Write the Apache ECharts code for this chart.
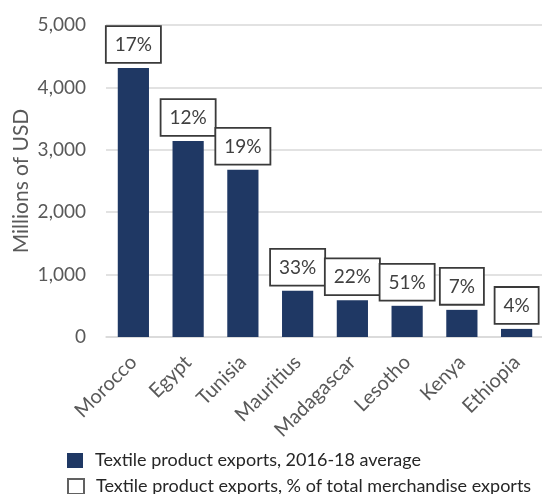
<!DOCTYPE html>
<html>
<head>
<meta charset="utf-8">
<script src="https://cdn.jsdelivr.net/npm/echarts@6/dist/echarts.min.js"></script>
<style>html,body{margin:0;padding:0;background:#fff;overflow:hidden}#c{width:542px;height:494px}</style>
</head>
<body>
<div id="c"></div>
<script>
const countries = ['Morocco','Egypt','Tunisia','Mauritius','Madagascar','Lesotho','Kenya','Ethiopia'];
const exportsMusd = [4310, 3140, 2680, 740, 590, 500, 435, 130];
const pctOfMerch = [17, 12, 19, 33, 22, 51, 7, 4];
const yTicks = [0, 1000, 2000, 3000, 4000, 5000];
const seriesNames = ['Textile product exports, 2016-18 average', 'Textile product exports, % of total merchandise exports'];

const FONT = 'Lato';
const legendBase = {
  orient: 'horizontal', left: 67, padding: 0, itemWidth: 16, itemHeight: 15,
  textStyle: {fontFamily: FONT, fontSize: 18, lineHeight: 18, color: '#262626', padding: [0, 0, 0, 7]}
};
const chart = echarts.init(document.getElementById('c'), null, {renderer: 'canvas'});
chart.setOption({
  animation: false,
  textStyle: {fontFamily: FONT},
  grid: {left: 106, right: -2, top: 25, bottom: 157, outerBoundsMode: 'none', containLabel: false},
  legend: [
    Object.assign({}, legendBase, {top: 451.5, data: [{name: seriesNames[0], icon: 'rect'}]}),
    Object.assign({}, legendBase, {top: 477.5, data: [{name: seriesNames[1], icon: 'rect'}]})
  ],
  xAxis: {
    type: 'category', data: countries,
    axisLine: {lineStyle: {color: '#d9d9d9', width: 1.5}},
    axisTick: {show: false},
    axisLabel: {rotate: 45, margin: 22, fontSize: 20, color: '#595959', interval: 0, fontFamily: FONT}
  },
  yAxis: {
    type: 'value', min: yTicks[0], max: yTicks[yTicks.length - 1], interval: 1000,
    name: 'Millions of USD', nameLocation: 'middle', nameGap: 74, nameMoveOverlap: false,
    nameTextStyle: {fontSize: 21, color: '#595959', fontFamily: FONT},
    axisLabel: {fontSize: 19, color: '#595959', margin: 20, fontFamily: FONT,
      formatter: v => v.toLocaleString('en-US')},
    splitLine: {lineStyle: {color: '#d9d9d9', width: 1.5}},
    axisLine: {show: false}, axisTick: {show: false}
  },
  series: [
    {
      name: seriesNames[0], type: 'bar', data: exportsMusd, barCategoryGap: '43%',
      itemStyle: {color: '#1F3864'},
      label: {
        show: true, position: 'top', distance: 6,
        formatter: p => pctOfMerch[p.dataIndex] + '%',
        fontSize: 19, color: '#404040', fontFamily: FONT,
        backgroundColor: '#fff', borderColor: '#3a3a3a', borderWidth: 1.8,
        padding: [7, 8, 6, 8], lineHeight: 22
      }
    },
    {
      name: seriesNames[1], type: 'scatter', data: [],
      itemStyle: {color: '#fff', borderColor: '#3a3a3a', borderWidth: 1.5}
    }
  ]
});
</script>
</body>
</html>
